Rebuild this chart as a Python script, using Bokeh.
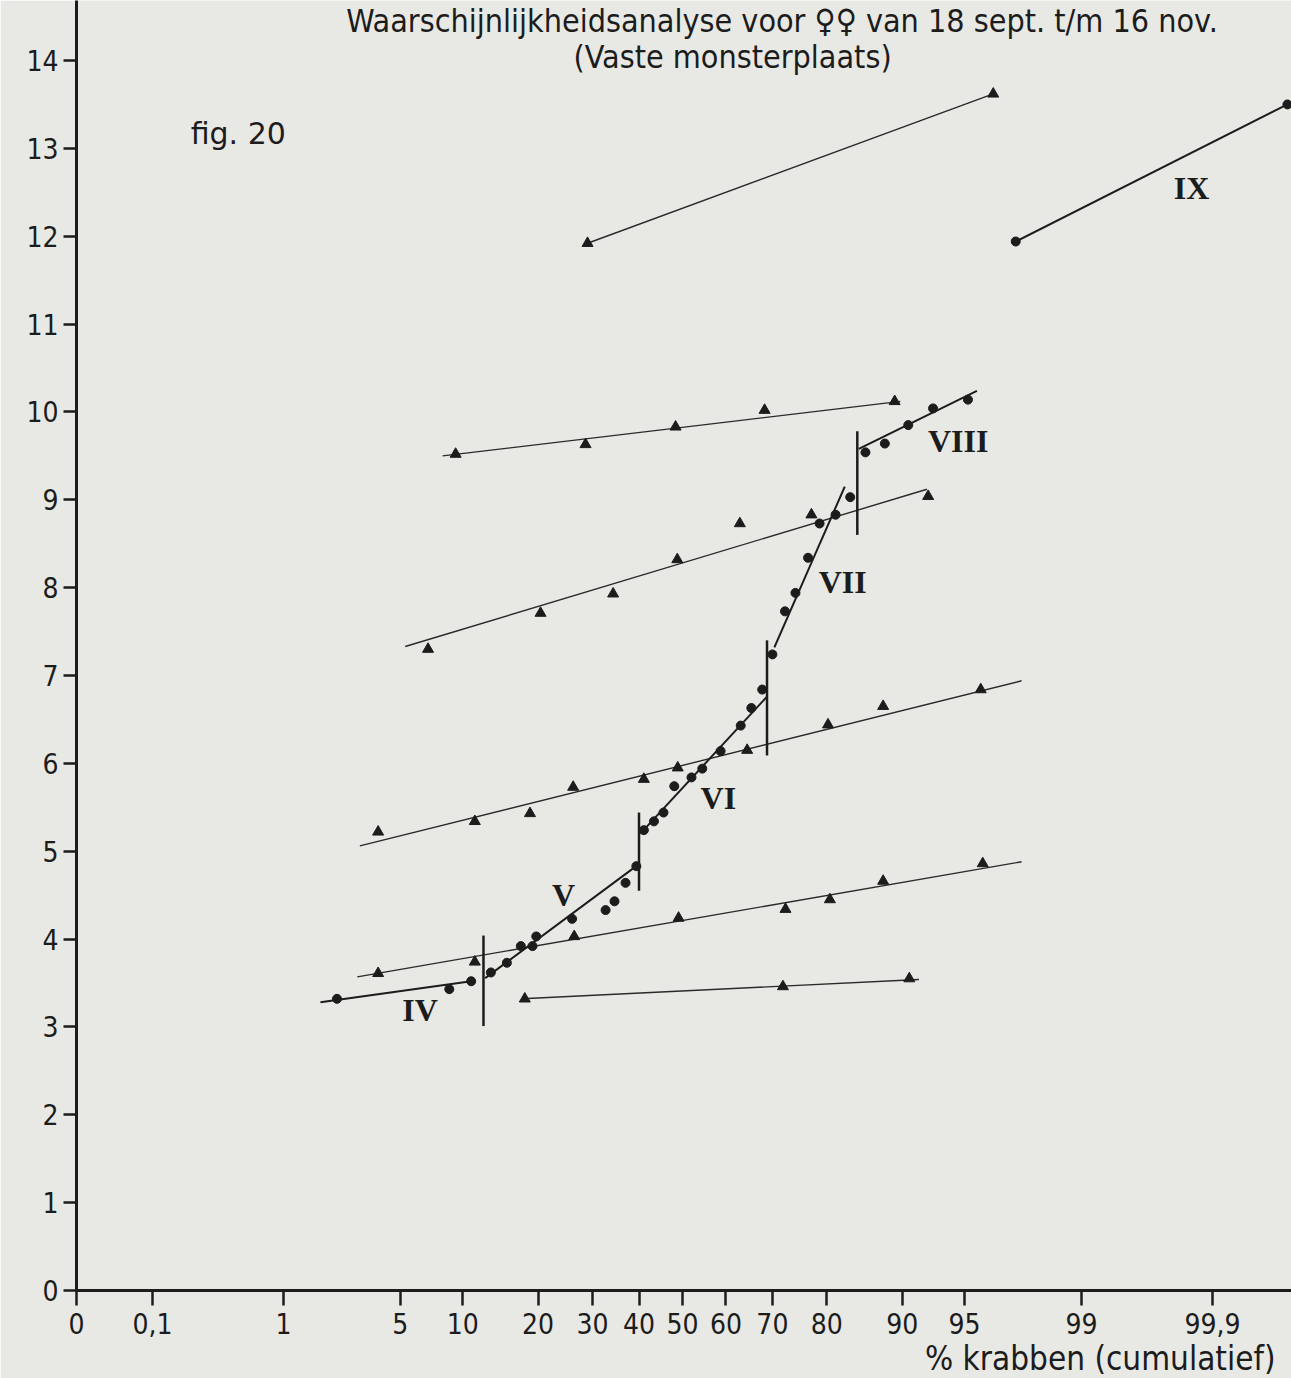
from statistics import NormalDist

from bokeh.embed import file_html
from bokeh.models import FixedTicker, Label, Range1d, Title
from bokeh.plotting import figure
from bokeh.resources import INLINE

# ---------------------------------------------------------------------------
# Probability paper: the x axis is linear in the normal quantile (probit)
# of the cumulative percentage.
# ---------------------------------------------------------------------------
_nd = NormalDist()


def probit(pct):
    return _nd.inv_cdf(pct / 100.0)


# axis extent, in probit units; the "0" tick sits on the left edge
X_LEFT_Z = -3.533
X_RIGHT_Z = 3.551
Y_TOP = 14.683

X_TICK_PCT = [0.1, 1, 5, 10, 20, 30, 40, 50, 60, 70, 80, 90, 95, 99, 99.9]
X_TICK_LABELS = ["0,1", "1", "5", "10", "20", "30", "40", "50", "60", "70",
                 "80", "90", "95", "99", "99,9"]
Y_TICKS = list(range(0, 15))

# --- individual samples (triangles) with their fitted lines ----------------
A_PCT = [29.0, 96.5]
A_Y = [11.92, 13.62]

B_LINE_PCT = [8.1, 89.8]
B_LINE_Y = [9.50, 10.12]
B_PCT = [9.3, 28.6, 48.4, 68.4, 89.2]
B_Y = [9.52, 9.63, 9.83, 10.02, 10.12]

C_LINE_PCT = [5.3, 92.3]
C_LINE_Y = [7.33, 9.12]
C_PCT = [6.9, 20.4, 34.3, 48.8, 63.1, 77.4, 92.4]
C_Y = [7.30, 7.71, 7.93, 8.32, 8.73, 8.83, 9.04]

D_LINE_PCT = [3.0, 97.6]
D_LINE_Y = [5.06, 6.94]
D_PCT = [3.8, 11.3, 18.7, 26.2, 41.1, 48.9, 64.7, 80.2, 87.9, 95.9]
D_Y = [5.22, 5.34, 5.43, 5.73, 5.82, 5.95, 6.15, 6.44, 6.65, 6.84]

E_LINE_PCT = [2.9, 97.6]
E_LINE_Y = [3.57, 4.88]
E_PCT = [3.8, 11.3, 26.4, 49.1, 72.6, 80.5, 87.9, 96.0]
E_Y = [3.61, 3.74, 4.03, 4.24, 4.34, 4.45, 4.66, 4.86]

F_LINE_PCT = [17.5, 91.6]
F_LINE_Y = [3.32, 3.54]
F_PCT = [17.9, 72.1, 90.7]
F_Y = [3.32, 3.46, 3.55]

# --- pooled analysis (circles), split into size groups IV .. IX ------------
IV_LINE_PCT = [1.74, 10.9]
IV_LINE_Y = [3.28, 3.52]
IV_PCT = [2.2, 8.7, 10.9]
IV_Y = [3.32, 3.43, 3.52]

V_LINE_PCT = [12.5, 39.9]
V_LINE_Y = [3.555, 4.85]
V_PCT = [13.2, 15.3, 17.3, 19.1, 19.7, 26.0, 32.7, 34.6, 37.0, 39.4]
V_Y = [3.62, 3.73, 3.92, 3.92, 4.03, 4.23, 4.33, 4.43, 4.64, 4.83]

VI_LINE_PCT = [40.3, 68.9]
VI_LINE_Y = [5.20, 6.76]
VI_PCT = [41.1, 43.4, 45.6, 48.1, 52.1, 54.6, 58.8, 63.3, 65.6, 67.9]
VI_Y = [5.24, 5.34, 5.44, 5.74, 5.84, 5.94, 6.14, 6.43, 6.63, 6.84]

VII_LINE_PCT = [70.4, 82.8]
VII_LINE_Y = [7.32, 9.15]
VII_PCT = [70.0, 72.5, 74.5, 76.8, 78.8, 81.4, 83.6]
VII_Y = [7.24, 7.73, 7.94, 8.34, 8.73, 8.83, 9.03]

VIII_LINE_PCT = [84.8, 95.7]
VIII_LINE_Y = [9.58, 10.24]
VIII_PCT = [85.7, 88.1, 90.6, 92.8, 95.2]
VIII_Y = [9.54, 9.64, 9.85, 10.04, 10.14]

IX_PCT = [97.4, 99.979]
IX_Y = [11.94, 13.50]

# group boundaries
SPLIT_PCT = [12.3, 40.0, 68.9, 84.6]
SPLIT_Y_LOW = [3.01, 4.55, 6.09, 8.60]
SPLIT_Y_HIGH = [4.04, 5.44, 7.40, 9.78]

ROMAN = ["IV", "V", "VI", "VII", "VIII", "IX"]
ROMAN_PCT = [6.3, 24.4, 58.3, 82.5, 94.6, 99.85]
ROMAN_Y = [3.19, 4.50, 5.61, 8.06, 9.67, 12.55]

# ---------------------------------------------------------------------------
PAPER = "#e8e9e4"
INK = "#1c1c1c"
NARROW = "DejaVu Sans Condensed"


def z(pcts):
    return [probit(v) for v in pcts]


p = figure(
    width=1291, height=1378,
    x_range=Range1d(X_LEFT_Z, X_RIGHT_Z),
    y_range=Range1d(0, Y_TOP),
    output_backend="svg", toolbar_location=None,
    min_border_left=76, min_border_right=0,
    min_border_top=0, min_border_bottom=88,
)
p.title.visible = False
p.background_fill_color = PAPER
p.border_fill_color = PAPER
p.outline_line_color = None
p.xgrid.visible = False
p.ygrid.visible = False

# x axis: probability scale
x_ticks = [X_LEFT_Z] + z(X_TICK_PCT)
p.xaxis.ticker = FixedTicker(ticks=x_ticks)
p.xaxis.major_label_overrides = dict(zip(x_ticks, ["0"] + X_TICK_LABELS))
p.yaxis.ticker = FixedTicker(ticks=Y_TICKS)

for ax in (p.xaxis[0], p.yaxis[0]):
    ax.axis_line_color = INK
    ax.axis_line_width = 3
    ax.major_tick_line_color = INK
    ax.major_tick_line_width = 2.5
    ax.major_tick_in = 0
    ax.minor_tick_line_color = None
    ax.major_label_text_font = NARROW
    ax.major_label_text_font_size = "28px"
    ax.major_label_text_color = INK
p.xaxis.major_tick_out = 15
p.xaxis.major_label_standoff = 7
p.yaxis.major_tick_out = 13
p.yaxis.major_label_standoff = 5

# x-axis caption, right-aligned under the tick labels
p.add_layout(Title(text="% krabben (cumulatief)", align="right", offset=16,
                   standoff=0, text_font=NARROW, text_font_size="33px",
                   text_font_style="normal", text_color=INK), "below")

# sample lines with triangles
for lx, ly, mx, my in [
    (A_PCT, A_Y, A_PCT, A_Y),
    (B_LINE_PCT, B_LINE_Y, B_PCT, B_Y),
    (C_LINE_PCT, C_LINE_Y, C_PCT, C_Y),
    (D_LINE_PCT, D_LINE_Y, D_PCT, D_Y),
    (E_LINE_PCT, E_LINE_Y, E_PCT, E_Y),
    (F_LINE_PCT, F_LINE_Y, F_PCT, F_Y),
]:
    p.line(z(lx), ly, line_color="#2a2a2a", line_width=1.4)
    p.scatter(z(mx), my, marker="triangle", size=11,
              fill_color=INK, line_color=INK)

# pooled analysis lines with dots
for lx, ly, mx, my in [
    (IV_LINE_PCT, IV_LINE_Y, IV_PCT, IV_Y),
    (V_LINE_PCT, V_LINE_Y, V_PCT, V_Y),
    (VI_LINE_PCT, VI_LINE_Y, VI_PCT, VI_Y),
    (VII_LINE_PCT, VII_LINE_Y, VII_PCT, VII_Y),
    (VIII_LINE_PCT, VIII_LINE_Y, VIII_PCT, VIII_Y),
    (IX_PCT, IX_Y, IX_PCT, IX_Y),
]:
    p.line(z(lx), ly, line_color=INK, line_width=2)
    p.scatter(z(mx), my, marker="circle", size=9,
              fill_color=INK, line_color=INK)

# vertical boundaries between size groups
sz = z(SPLIT_PCT)
p.segment(x0=sz, y0=SPLIT_Y_LOW, x1=sz, y1=SPLIT_Y_HIGH,
          line_color=INK, line_width=2.5)

# group numerals
for txt, px, py in zip(ROMAN, ROMAN_PCT, ROMAN_Y):
    p.add_layout(Label(x=probit(px), y=py, text=txt,
                       text_font="Liberation Serif", text_font_style="bold",
                       text_font_size="32px", text_color=INK,
                       text_align="center", text_baseline="middle"))

# headings
p.add_layout(Label(x=probit(72.8), y=14.45,
                   text="Waarschijnlijkheidsanalyse  voor \u2640\u2640 van 18 sept. t/m 16 nov.",
                   text_font=NARROW, text_font_size="32px", text_color=INK,
                   text_align="center", text_baseline="middle"))
p.add_layout(Label(x=probit(61.5), y=14.04, text="(Vaste monsterplaats)",
                   text_font=NARROW, text_font_size="32px", text_color=INK,
                   text_align="center", text_baseline="middle"))
p.add_layout(Label(x=probit(0.48), y=13.17, text="fig. 20",
                   text_font="DejaVu Sans", text_font_size="30px", text_color=INK,
                   text_align="center", text_baseline="middle"))

open("out.html", "w").write(file_html(p, INLINE))
